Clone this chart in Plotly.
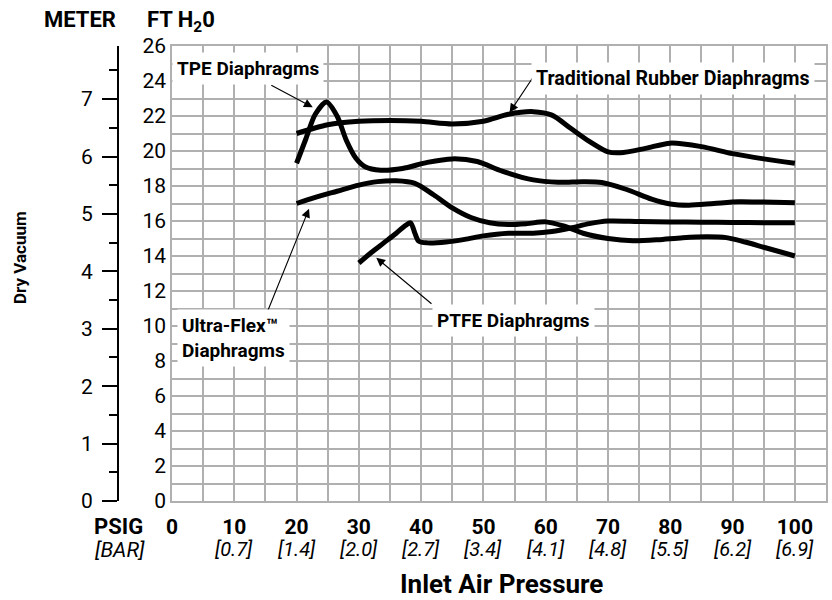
import plotly.graph_objects as go

# --- curve data (x = inlet pressure psig, y = dry vacuum ft H2O) ---
rubber_x = [20, 25, 30, 35, 40, 45, 50, 54, 58, 61, 64, 67, 70, 72, 76, 80, 85, 90, 95, 100]
rubber_y = [21.0, 21.5, 21.7, 21.75, 21.7, 21.55, 21.7, 22.1, 22.25, 22.05, 21.3, 20.55, 19.95, 19.9, 20.15, 20.45, 20.25, 19.85, 19.55, 19.3]

tpe_x = [20, 21.5, 23, 24.8, 26.5, 28, 29.5, 31, 33.5, 37, 41, 45, 49, 53, 58, 62, 66, 69, 73, 77, 80, 83, 87, 91, 95, 100]
tpe_y = [19.3, 20.7, 22.1, 22.8, 22.0, 20.6, 19.6, 19.1, 18.9, 19.0, 19.35, 19.55, 19.4, 18.85, 18.35, 18.22, 18.25, 18.2, 17.8, 17.25, 16.97, 16.9, 17.0, 17.1, 17.08, 17.05]

ultra_x = [20, 23, 26.5, 30, 33, 36, 39, 42, 45, 48, 51, 54, 57, 60, 63, 66, 70, 74, 78, 82, 86, 89, 92, 95, 100]
ultra_y = [17.0, 17.35, 17.7, 18.05, 18.25, 18.3, 18.15, 17.5, 16.75, 16.2, 15.9, 15.8, 15.85, 15.95, 15.7, 15.3, 15.0, 14.87, 14.93, 15.05, 15.1, 15.05, 14.8, 14.5, 14.0]

ptfe_x = [30, 32, 34, 36, 37.5, 38.3, 39, 39.6, 41, 44, 47, 50, 54, 58, 61, 64, 67, 70, 75, 80, 85, 90, 95, 100]
ptfe_y = [13.6, 14.2, 14.75, 15.3, 15.75, 15.9, 15.3, 14.85, 14.75, 14.8, 14.95, 15.15, 15.3, 15.3, 15.4, 15.6, 15.85, 16.0, 15.97, 15.95, 15.93, 15.92, 15.9, 15.9]

psig_ticks = [0, 10, 20, 30, 40, 50, 60, 70, 80, 90, 100]
bar_labels = ["", "[0.7]", "[1.4]", "[2.0]", "[2.7]", "[3.4]", "[4.1]", "[4.8]", "[5.5]", "[6.2]", "[6.9]"]

FT_PER_M = 3.28084
FONT = "Roboto, Liberation Sans, sans-serif"
GRID = "#b0b0b0"

fig = go.Figure()
for xs, ys in [(rubber_x, rubber_y), (tpe_x, tpe_y), (ultra_x, ultra_y), (ptfe_x, ptfe_y)]:
    fig.add_trace(go.Scatter(x=xs, y=ys, mode='lines',
                             line=dict(color='black', width=5, shape='spline', smoothing=0.8),
                             showlegend=False, hoverinfo='skip'))
# empty trace so the meter axis gets drawn
fig.add_trace(go.Scatter(x=[], y=[], yaxis='y2', showlegend=False))

# arrows: (head x, head y, tail x, tail y)
arrows = [(22.6, 22.5, 15.7, 23.8), (54.2, 22.2, 58.5, 24.5),
          (22.0, 16.7, 15.3, 10.8), (32.8, 13.9, 41.9, 11.2)]
for hx, hy, tx, ty in arrows:
    fig.add_annotation(x=hx, y=hy, ax=tx, ay=ty, xref='x', yref='y', axref='x', ayref='y',
                       text='', showarrow=True, arrowhead=2, arrowsize=1.6, arrowwidth=1.1,
                       arrowcolor='black')

labels = [("TPE Diaphragms", 12.2, 24.74, 'center', 19),
          ("Traditional Rubber Diaphragms", 80.4, 24.17, 'center', 19.6),
          ("Ultra-Flex™<br>Diaphragms", 9.9, 9.3, 'left', 19),
          ("PTFE Diaphragms", 54.8, 10.34, 'center', 19)]
for txt, x, y, al, sz in labels:
    fig.add_annotation(x=x, y=y, xref='x', yref='y', text='<b>' + txt + '</b>', showarrow=False,
                       align=al, bgcolor='white', borderpad=4,
                       font=dict(family=FONT, size=sz, color='black'))

for v, lab in zip(psig_ticks, bar_labels):
    if lab:
        fig.add_annotation(x=v, y=-0.106, xref='x', yref='paper', text='<i>' + lab + '</i>',
                           showarrow=False, xanchor='center', yanchor='middle',
                           font=dict(family=FONT, size=20, color='black'))

other_text = [("<b>PSIG</b>", 118, 526, 22, 0), ("<i>[BAR]</i>", 120, 550, 21, 0),
              ("<b>METER</b>", 80, 20, 22, 0), ("<b>FT H<sub>2</sub>0</b>", 181, 22, 22, 0),
              ("<b>Dry Vacuum</b>", 20, 258, 17, -90), ("<b>Inlet Air Pressure</b>", 501, 584, 26, 0)]
for txt, px, py, sz, ang in other_text:
    fig.add_annotation(x=px / 832, y=(501 - py) / 455, xref='paper', yref='paper', text=txt,
                       showarrow=False, textangle=ang, xanchor='center', yanchor='middle',
                       font=dict(family=FONT, size=sz, color='black'))

fig.update_layout(
    width=832, height=600,
    margin=dict(l=0, r=0, t=46, b=99),
    paper_bgcolor='white', plot_bgcolor='white',
    font=dict(family=FONT, color='black'),
    xaxis=dict(domain=[172 / 832, 826 / 832], range=[0, 105], automargin=False,
               tickvals=psig_ticks, ticktext=['<b>%d</b>' % v for v in psig_ticks],
               tickfont=dict(size=21), ticks='', ticklabelstandoff=6,
               showgrid=True, gridcolor=GRID, gridwidth=1.5,
               minor=dict(dtick=5, tick0=0, showgrid=True, gridcolor=GRID, gridwidth=1.5),
               showline=True, mirror=True, linecolor=GRID, linewidth=1.5, zeroline=False),
    yaxis=dict(range=[0, 26], dtick=2, tickfont=dict(size=21), ticks='', automargin=False,
               showgrid=True, gridcolor=GRID, gridwidth=1.5,
               minor=dict(dtick=1, showgrid=True, gridcolor=GRID, gridwidth=1.5),
               showline=True, mirror=True, linecolor=GRID, linewidth=1.5, zeroline=False),
    yaxis2=dict(overlaying='y', side='left', anchor='free', position=118 / 832, automargin=False,
                range=[0, 26 / FT_PER_M], dtick=1, tickfont=dict(size=21), ticklabelstandoff=5,
                ticks='outside', ticklen=15, tickwidth=2, tickcolor='black',
                minor=dict(dtick=0.5, ticks='outside', ticklen=8, tickwidth=2, tickcolor='black'),
                showline=True, linecolor='black', linewidth=2, showgrid=False, zeroline=False),
)

fig.write_html("out.html", config={'displayModeBar': False},
               post_script="document.body.style.margin='0';")
